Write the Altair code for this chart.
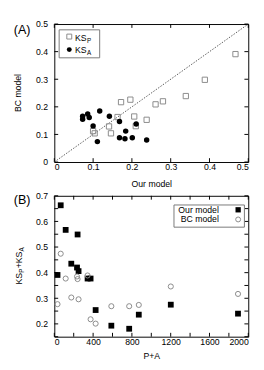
import altair as alt
import pandas as pd

# ---------------- Panel A data ----------------
ksp_ours = [0.467, 0.388, 0.339, 0.280, 0.261, 0.238, 0.172, 0.196, 0.163, 0.206, 0.141, 0.210, 0.100, 0.104, 0.146]
ksp_bc = [0.391, 0.298, 0.239, 0.220, 0.209, 0.153, 0.217, 0.226, 0.163, 0.165, 0.129, 0.130, 0.112, 0.104, 0.104]
ksa_ours = [0.073, 0.073, 0.086, 0.090, 0.117, 0.142, 0.168, 0.100, 0.211, 0.184, 0.111, 0.168, 0.182, 0.201, 0.238]
ksa_bc = [0.166, 0.155, 0.174, 0.161, 0.185, 0.166, 0.147, 0.131, 0.138, 0.112, 0.074, 0.088, 0.084, 0.088, 0.080]
diag_vals = [0.0, 0.5]
a_ticks = [0.0, 0.1, 0.2, 0.3, 0.4, 0.5]
a_labels = [0.0, 0.1, 0.2, 0.3, 0.4, 0.5]

# ---------------- Panel B data ----------------
pa = [33, 66, 117, 175, 234, 240, 250, 343, 374, 426, 588, 772, 871, 1201, 1894]
b_ours = [0.391, 0.663, 0.567, 0.435, 0.420, 0.549, 0.406, 0.377, 0.377, 0.254, 0.193, 0.181, 0.236, 0.275, 0.240]
b_bc = [0.277, 0.474, 0.377, 0.303, 0.385, 0.375, 0.296, 0.389, 0.218, 0.201, 0.269, 0.269, 0.274, 0.346, 0.317]
b_xticks = [0, 200, 400, 600, 800, 1000, 1200, 1400, 1600, 1800, 2000]
b_xlabels = [0, 400, 800, 1200, 1600, 2000]
b_yticks = [0.15, 0.2, 0.25, 0.3, 0.35, 0.4, 0.45, 0.5, 0.55, 0.6, 0.65, 0.7]
b_ylabels = [0.2, 0.3, 0.4, 0.5, 0.6, 0.7]

W = 201
H1 = 143
H2 = 146
FONT = "Liberation Sans"
GRAY = "#8a8a8a"
TL = 4  # inward tick length


def one(s):
    return pd.DataFrame({"s": [s]})


def text(s, x, y, size=9, align="left", baseline="middle", angle=0):
    kw = dict(font=FONT, fontSize=size, align=align, baseline=baseline, color="black")
    if angle:
        kw["angle"] = angle
    return alt.Chart(one(s)).mark_text(**kw).encode(
        text="s:N", x=alt.value(x), y=alt.value(y))


def marker(shape, filled, color, size, x, y):
    return alt.Chart(one("m")).mark_point(
        shape=shape, filled=filled, color=color, size=size, opacity=1, strokeWidth=1
    ).encode(x=alt.value(x), y=alt.value(y))


def box(x1, x2, y1, y2):
    return alt.Chart(one("b")).mark_rect(
        fill="white", stroke="#777777", strokeWidth=1
    ).encode(x=alt.value(x1), x2=alt.value(x2), y=alt.value(y1), y2=alt.value(y2))


# ---------------- Panel A ----------------
xA_scale = alt.Scale(domain=[0, 0.5], nice=False, zero=False)
yA_scale = alt.Scale(domain=[0, 0.5], nice=False, zero=False)
xA_axis = alt.Axis(values=a_labels, format="~g", title="Our model", labelPadding=1, titlePadding=8)
yA_axis = alt.Axis(values=a_labels, format="~g", title=None, labelPadding=7)


def XA(f):
    return alt.X(f, type="quantitative", scale=xA_scale, axis=xA_axis)


def YA(f):
    return alt.Y(f, type="quantitative", scale=yA_scale, axis=yA_axis)


dfAp = pd.DataFrame({"ours": ksp_ours, "bc": ksp_bc})
dfAa = pd.DataFrame({"ours": ksa_ours, "bc": ksa_bc})
dfDiag = pd.DataFrame({"ours": diag_vals, "bc": diag_vals})
dfAt = pd.DataFrame({"tx": a_ticks, "ty": a_ticks})

tA = alt.Chart(dfAt).mark_rule(color="black", strokeWidth=1)
ticksA = [
    tA.encode(x=XA("tx"), y=alt.value(0), y2=alt.value(TL)),
    tA.encode(x=XA("tx"), y=alt.value(H1), y2=alt.value(H1 - TL)),
    tA.encode(y=YA("ty"), x=alt.value(0), x2=alt.value(TL)),
    tA.encode(y=YA("ty"), x=alt.value(W), x2=alt.value(W - TL)),
]

diag = alt.Chart(dfDiag).mark_line(color="#444444", strokeWidth=0.9, strokeDash=[1.5, 1.5]).encode(
    x=XA("ours"), y=YA("bc"))
sq = alt.Chart(dfAp).mark_point(shape="square", filled=False, color=GRAY, size=30, strokeWidth=1, opacity=1).encode(
    x=XA("ours"), y=YA("bc"))
ci = alt.Chart(dfAa).mark_point(shape="circle", filled=True, color="black", size=32, opacity=1).encode(
    x=XA("ours"), y=YA("bc"))

layersA = ticksA + [
    diag, sq, ci,
    box(5, 47, 6, 35),
    marker("square", False, GRAY, 26, 15.5, 13),
    marker("circle", True, "black", 26, 15.5, 26.5),
    text("KS", 21.5, 17.2, baseline="alphabetic"),
    text("P", 33.8, 19.5, size=6.5, baseline="alphabetic"),
    text("KS", 21.5, 30.2, baseline="alphabetic"),
    text("A", 33.8, 32.5, size=6.5, baseline="alphabetic"),
    text("BC model", -37.5, H1 / 2, align="center", baseline="middle", angle=270),
    text("(A)", -42, 0, size=13, baseline="top"),
]
chartA = alt.layer(*layersA).properties(width=W, height=H1)

# ---------------- Panel B ----------------
xB_scale = alt.Scale(domain=[0, 2000], nice=False, zero=False)
yB_scale = alt.Scale(domain=[0.15, 0.7], nice=False, zero=False)
xB_axis = alt.Axis(values=b_xlabels, format="d", title="P+A", labelPadding=1, titlePadding=6)
yB_axis = alt.Axis(values=b_ylabels, format="~g", title=None, labelPadding=7)


def XB(f):
    return alt.X(f, type="quantitative", scale=xB_scale, axis=xB_axis)


def YB(f):
    return alt.Y(f, type="quantitative", scale=yB_scale, axis=yB_axis)


dfB = pd.DataFrame({"pa": pa, "ours": b_ours, "bc": b_bc})
dfBx = pd.DataFrame({"tx": b_xticks})
dfBy = pd.DataFrame({"ty": b_yticks})

tB = alt.Chart(dfBx).mark_rule(color="black", strokeWidth=1)
tBy = alt.Chart(dfBy).mark_rule(color="black", strokeWidth=1)
ticksB = [
    tB.encode(x=XB("tx"), y=alt.value(0), y2=alt.value(TL)),
    tB.encode(x=XB("tx"), y=alt.value(H2), y2=alt.value(H2 - TL)),
    tBy.encode(y=YB("ty"), x=alt.value(0), x2=alt.value(TL)),
    tBy.encode(y=YB("ty"), x=alt.value(W), x2=alt.value(W - TL)),
]

bsq = alt.Chart(dfB).mark_point(shape="square", filled=True, color="black", size=36, opacity=1).encode(
    x=XB("pa"), y=YB("ours"))
bci = alt.Chart(dfB).mark_point(shape="circle", filled=False, color=GRAY, size=28, strokeWidth=1, opacity=1).encode(
    x=XB("pa"), y=YB("bc"))

y0 = H2 / 2 + 19
layersB = ticksB + [
    bsq, bci,
    box(124, 197, 9.5, 32.5),
    text("Our model", 170.5, 14.5, align="right"),
    text("BC model", 170.5, 24.5, align="right"),
    marker("square", True, "black", 30, 190.5, 14.5),
    marker("circle", False, GRAY, 26, 190.5, 24.5),
    text("KS", -36, y0, angle=270, baseline="middle"),
    text("P", -33.5, y0 - 12.3, size=6.5, angle=270, baseline="middle"),
    text("+KS", -36, y0 - 16.8, angle=270, baseline="middle"),
    text("A", -33.5, y0 - 34.3, size=6.5, angle=270, baseline="middle"),
    text("(B)", -42, -1, size=13, baseline="top"),
]
chartB = alt.layer(*layersB).properties(width=W, height=H2)

chart = alt.vconcat(chartA, chartB, spacing=2).configure_view(
    stroke="black", strokeWidth=1
).configure_axis(
    ticks=False, tickSize=0, domain=False, grid=False,
    labelFont=FONT, labelFontSize=9, labelColor="black",
    titleFont=FONT, titleFontSize=9, titleFontWeight="normal", titleColor="black",
).properties(background="white")

chart.save("out.html", embed_options={"renderer": "svg", "actions": False})
